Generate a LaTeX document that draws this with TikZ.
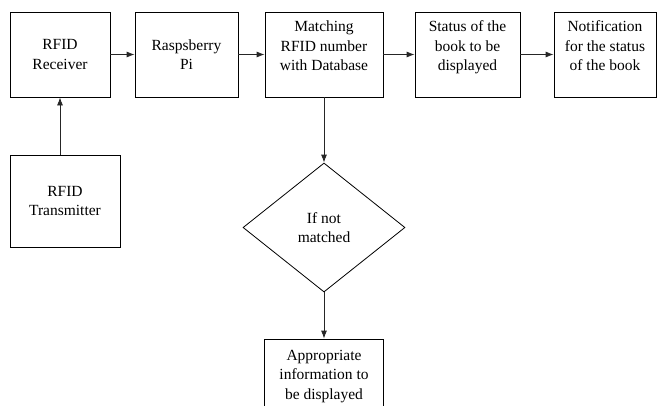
\documentclass[tikz,border=0pt]{standalone}
\usepackage{fontspec}
\setmainfont{LiberationSerif}[Extension=.ttf,UprightFont=*-Regular,BoldFont=*-Bold,ItalicFont=*-Italic,BoldItalicFont=*-BoldItalic]
\usetikzlibrary{arrows,arrows.meta,shapes,positioning,calc}
\tikzset{
	block/.style = {draw, fill=white, rectangle, minimum height=85pt, align=center, inner sep=2pt},
	top3/.style = {text height=14pt, text depth=60pt},
	decision/.style = {draw, fill=white, diamond, minimum width=162pt, minimum height=129pt, align=center, inner sep=0pt},
	flow/.style = {->, black!85}
}

\begin{document}
\begin{tikzpicture}[auto,>={Latex[length=8pt,width=6pt]},x=1pt,y=-1pt,line width=0.8pt,
		font=\rmfamily\fontsize{15.5}{19.5}\selectfont]
		\clip (0,0) rectangle (657,405);
		\node [block, minimum width=100pt] (A) at (60,54.5) {RFID\\Receiver};
		\node [block, right of=A, node distance=126.5pt, minimum width=103pt] (B) {Raspsberry\\Pi};
		\node [block, top3, right of=B, node distance=137.5pt, minimum width=118pt] (C) {\begin{tabular}[t]{@{}c@{}}Matching\\RFID number\\with Database\end{tabular}};
		\node [block, top3, right of=C, node distance=143.5pt, minimum width=105pt] (D) {\begin{tabular}[t]{@{}c@{}}Status of the\\book to be\\displayed\end{tabular}};
		\node [block, top3, right of=D, node distance=137.5pt, minimum width=102pt] (E) {\begin{tabular}[t]{@{}c@{}}Notification\\for the status\\of the book\end{tabular}};
		\node [block, below of=A, node distance=146.5pt, xshift=5pt, minimum width=110pt, minimum height=92pt] (T) {RFID\\Transmitter};
		\node [decision, below of=C, node distance=173pt] (F) {If not\\matched};
		\node [block, below of=F, node distance=149pt, minimum width=119pt, minimum height=75pt] (G) {Appropriate\\information to\\be displayed};

		\draw [flow] (A) -- (B);
		\draw [flow] (B) -- (C);
		\draw [flow] (C) -- (D);
		\draw [flow] (D) -- (E);
		\draw [flow] (T.north -| A.south) -- (A.south);
		\draw [flow] (C.south) -- (F.north);
		\draw [flow] (F.south) -- (G.north);
	\end{tikzpicture}
\end{document}
